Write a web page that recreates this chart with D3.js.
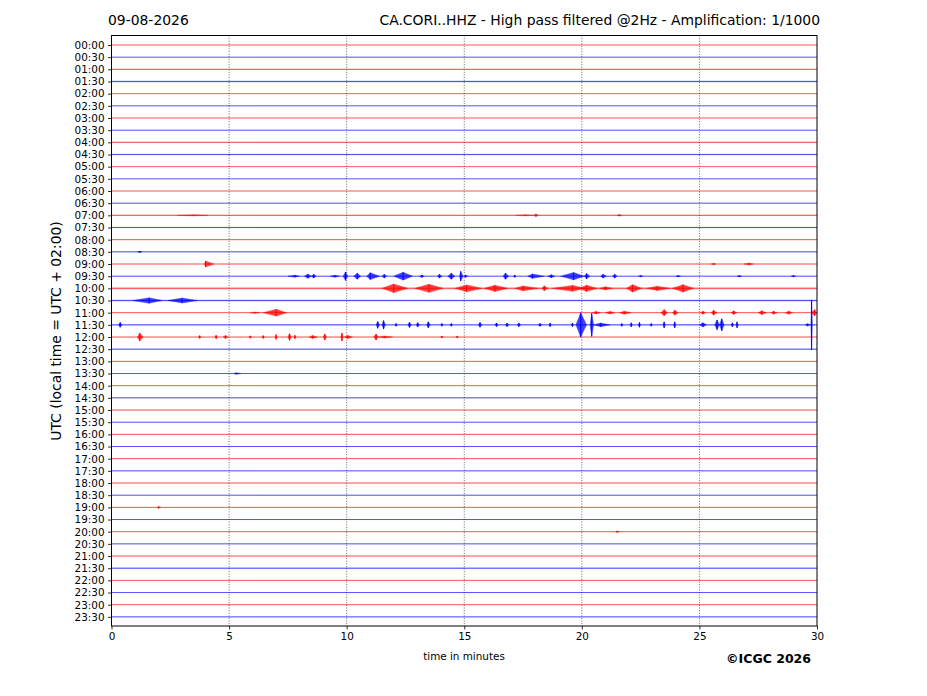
<!DOCTYPE html>
<html>
<head>
<meta charset="utf-8">
<script src="https://cdn.jsdelivr.net/npm/d3@7"></script>
<style>
  body { margin: 0; background: #fff; }
  svg { font-family: "DejaVu Sans", sans-serif; }
</style>
</head>
<body>
<svg id="chart" width="927" height="696"></svg>
<script>
// one trace every 30 minutes, 48 lines for the day
var rowLabels = d3.range(48).map(function (i) {
    return d3.format("02d")(Math.floor(i / 2)) + ":" + (i % 2 ? "30" : "00");
});
var rowColors = ["#ff0000", "#0000ff"];
var xTicks = [0, 5, 10, 15, 20, 25, 30];

// background noise half-width for each trace (in trace spacings)
var noiseLevel = [
    0.02, 0.02, 0.05, 0.08, 0.02, 0.02, 0.02, 0.02, 0.06, 0.06, 0.02, 0.02,
    0.02, 0.03, 0.06, 0.06, 0.04, 0.04, 0.03, 0.03, 0.1, 0.08, 0.03, 0.06,
    0.03, 0.05, 0.03, 0.03, 0.03, 0.04, 0.03, 0.03, 0.04, 0.03, 0.03, 0.03,
    0.03, 0.03, 0.03, 0.04, 0.03, 0.03, 0.03, 0.06, 0.03, 0.03, 0.03, 0.04
];

// events: [row, start min, peak min, end min, peak amplitude]
var events = [
    [14, 2.8, 3.5, 4.1, 0.04], [14, 17.2, 17.6, 17.9, 0.04], [14, 17.95, 18.05, 18.15, 0.1], [14, 21.5, 21.6, 21.7, 0.06],
    [17, 1.1, 1.2, 1.3, 0.05],
    [18, 3.95, 4.0, 4.35, 0.25], [18, 25.5, 25.6, 25.7, 0.06], [18, 26.9, 27.1, 27.3, 0.08],
    [19, 7.5, 7.8, 8.0, 0.08], [19, 8.2, 8.35, 8.5, 0.17], [19, 8.5, 8.6, 8.7, 0.15], [19, 9.3, 9.5, 9.7, 0.08],
    [19, 9.85, 9.95, 10.05, 0.35], [19, 10.3, 10.45, 10.6, 0.25], [19, 10.85, 11.0, 11.4, 0.28], [19, 11.5, 11.6, 11.7, 0.15],
    [19, 12.0, 12.4, 12.8, 0.32], [19, 13.1, 13.2, 13.3, 0.1], [19, 13.85, 13.95, 14.05, 0.15], [19, 14.3, 14.45, 14.6, 0.25],
    [19, 14.8, 14.85, 14.95, 0.4], [19, 15.0, 15.05, 15.15, 0.1], [19, 16.65, 16.75, 16.9, 0.25], [19, 17.1, 17.15, 17.2, 0.1],
    [19, 17.7, 17.9, 18.4, 0.18], [19, 18.55, 18.7, 18.85, 0.12], [19, 19.1, 19.65, 20.1, 0.3], [19, 20.1, 20.2, 20.35, 0.22],
    [19, 20.8, 20.9, 21.05, 0.15], [19, 21.3, 21.4, 21.5, 0.15], [19, 22.4, 22.5, 22.6, 0.06], [19, 24.0, 24.1, 24.2, 0.06],
    [19, 26.6, 26.7, 26.8, 0.06], [19, 28.9, 29.0, 29.1, 0.06],
    [20, 11.5, 12.0, 12.6, 0.35], [20, 12.9, 13.5, 14.1, 0.33], [20, 14.6, 15.1, 15.75, 0.28], [20, 15.85, 16.3, 16.85, 0.25],
    [20, 17.15, 17.5, 18.15, 0.2], [20, 18.3, 18.4, 18.55, 0.2], [20, 18.75, 19.6, 20.15, 0.24], [20, 19.9, 20.2, 20.65, 0.25],
    [20, 20.75, 21.0, 21.3, 0.13], [20, 21.9, 22.15, 22.55, 0.3], [20, 22.75, 23.2, 23.75, 0.17], [20, 23.85, 24.3, 24.75, 0.3],
    [21, 0.9, 1.6, 2.15, 0.22], [21, 2.4, 3.0, 3.65, 0.2],
    [22, 5.9, 6.1, 6.3, 0.05], [22, 6.45, 7.0, 7.45, 0.28], [22, 20.45, 20.6, 20.8, 0.1], [22, 21.0, 21.2, 21.4, 0.1],
    [22, 21.6, 21.8, 22.1, 0.12], [22, 23.35, 23.5, 23.65, 0.25], [22, 23.85, 23.95, 24.1, 0.2], [22, 25.05, 25.15, 25.25, 0.12],
    [22, 25.5, 25.6, 25.75, 0.2], [22, 26.35, 26.45, 26.6, 0.15], [22, 27.5, 27.65, 27.85, 0.15], [22, 28.05, 28.15, 28.3, 0.12],
    [22, 28.65, 28.8, 28.95, 0.12], [22, 29.75, 29.9, 30.0, 0.25],
    [23, 0.3, 0.37, 0.45, 0.2], [23, 11.25, 11.32, 11.4, 0.28], [23, 11.5, 11.57, 11.65, 0.35], [23, 12.05, 12.1, 12.15, 0.12],
    [23, 12.6, 12.67, 12.75, 0.22], [23, 12.95, 13.02, 13.1, 0.18], [23, 13.4, 13.47, 13.55, 0.25], [23, 14.0, 14.05, 14.1, 0.12],
    [23, 14.4, 14.45, 14.5, 0.12], [23, 15.6, 15.67, 15.75, 0.2], [23, 16.3, 16.37, 16.45, 0.15], [23, 16.75, 16.82, 16.9, 0.15],
    [23, 17.25, 17.32, 17.4, 0.15], [23, 18.15, 18.22, 18.3, 0.12], [23, 18.6, 18.65, 18.7, 0.15], [23, 19.55, 19.6, 19.65, 0.15],
    [23, 19.75, 19.95, 20.2, 1.0], [23, 20.35, 20.42, 20.5, 0.95], [23, 20.5, 20.8, 21.2, 0.15], [23, 21.65, 21.7, 21.75, 0.12],
    [23, 22.05, 22.1, 22.15, 0.17], [23, 22.4, 22.45, 22.5, 0.2], [23, 22.9, 22.95, 23.0, 0.12], [23, 23.45, 23.5, 23.55, 0.25],
    [23, 23.9, 23.95, 24.0, 0.25], [23, 25.0, 25.15, 25.3, 0.17], [23, 25.65, 25.75, 25.85, 0.4], [23, 25.85, 25.95, 26.05, 0.5],
    [23, 26.35, 26.4, 26.45, 0.17], [23, 26.55, 26.6, 26.65, 0.25], [23, 29.5, 29.6, 29.72, 0.1], [23, 29.74, 29.77, 29.8, 2.05],
    [24, 1.1, 1.2, 1.35, 0.33], [24, 3.7, 3.75, 3.8, 0.12], [24, 4.4, 4.45, 4.5, 0.15], [24, 4.75, 4.85, 4.95, 0.12],
    [24, 5.85, 5.9, 5.95, 0.1], [24, 6.4, 6.45, 6.5, 0.12], [24, 6.95, 7.0, 7.05, 0.2], [24, 7.5, 7.57, 7.65, 0.28],
    [24, 7.75, 7.8, 7.85, 0.15], [24, 8.4, 8.55, 8.75, 0.12], [24, 9.0, 9.07, 9.15, 0.25], [24, 9.75, 9.8, 9.85, 0.33],
    [24, 9.9, 10.05, 10.25, 0.12], [24, 11.15, 11.25, 11.35, 0.25], [24, 11.35, 11.6, 11.95, 0.08], [24, 14.0, 14.05, 14.1, 0.08],
    [24, 14.65, 14.7, 14.75, 0.08],
    [27, 5.2, 5.3, 5.5, 0.06],
    [38, 1.95, 2.0, 2.1, 0.08],
    [40, 21.45, 21.5, 21.6, 0.06]
];

var svg = d3.select("#chart");
var plotLeft = 111.5, plotRight = 817, plotTop = 35.5, plotBottom = 626;

var x = d3.scaleLinear().domain([0, 30]).range([plotLeft, plotRight]);
var y = d3.scaleLinear().domain([-0.78, 47.75]).range([plotTop, plotBottom]);

svg.append("defs").append("clipPath").attr("id", "plotclip")
    .append("rect").attr("x", plotLeft).attr("y", plotTop)
    .attr("width", plotRight - plotLeft).attr("height", plotBottom - plotTop);

var plot = svg.append("g").attr("clip-path", "url(#plotclip)");

// vertical dotted grid
plot.selectAll(".vgrid").data(xTicks.slice(1, -1)).enter().append("line")
    .attr("x1", function (d) { return x(d); }).attr("x2", function (d) { return x(d); })
    .attr("y1", plotTop).attr("y2", plotBottom)
    .attr("stroke", "#444").attr("stroke-width", 0.8).attr("stroke-dasharray", "1,1.6");

var rows = plot.selectAll(".row").data(rowLabels).enter().append("g").attr("class", "row");

// noise band
rows.append("rect")
    .attr("x", x(0)).attr("width", x(30) - x(0))
    .attr("y", function (d, i) { return y(i - noiseLevel[i]); })
    .attr("height", function (d, i) { return y(i + noiseLevel[i]) - y(i - noiseLevel[i]); })
    .attr("fill", function (d, i) { return rowColors[i % 2]; })
    .attr("opacity", 0.22);

// baseline
rows.append("line")
    .attr("x1", x(0)).attr("x2", x(30))
    .attr("y1", function (d, i) { return y(i); }).attr("y2", function (d, i) { return y(i); })
    .attr("stroke", function (d, i) { return rowColors[i % 2]; })
    .attr("stroke-width", 1).attr("opacity", 0.6);

var env = d3.area()
    .x(function (p) { return x(p[0]); })
    .y0(function (p) { return y(p[2] + p[1]); })
    .y1(function (p) { return y(p[2] - p[1]); });

var ev = plot.selectAll(".event").data(events).enter().append("g").attr("class", "event");

ev.append("path")
    .attr("d", function (e) {
        return env([[e[1], 0, e[0]], [e[2], e[4], e[0]], [e[3], 0, e[0]]]);
    })
    .attr("fill", function (e) { return rowColors[e[0] % 2]; })
    .attr("stroke", function (e) { return rowColors[e[0] % 2]; })
    .attr("stroke-width", 0.5)
    .attr("opacity", 0.75);

// spike at the peak of each event
ev.append("line")
    .attr("x1", function (e) { return x(e[2]); }).attr("x2", function (e) { return x(e[2]); })
    .attr("y1", function (e) { return y(e[0] - e[4]); })
    .attr("y2", function (e) { return y(e[0] + e[4]); })
    .attr("stroke", function (e) { return rowColors[e[0] % 2]; })
    .attr("stroke-width", 1);

// axes
var yAxis = d3.axisLeft(y).tickValues(d3.range(48))
    .tickFormat(function (i) { return rowLabels[i]; }).tickSize(3.5).tickPadding(3.5);
var xAxis = d3.axisBottom(x).tickValues(xTicks).tickSize(3.5).tickPadding(3.5);

var gy = svg.append("g").attr("transform", "translate(" + plotLeft + ",0)").call(yAxis);
var gx = svg.append("g").attr("transform", "translate(0," + plotBottom + ")").call(xAxis);
[gy, gx].forEach(function (g) {
    g.select(".domain").remove();
    g.selectAll("text").attr("font-size", "10.4px").attr("fill", "#000")
        .attr("font-family", "DejaVu Sans");
    g.selectAll("line").attr("stroke", "#000").attr("stroke-width", 0.8);
});

svg.append("rect").attr("x", plotLeft).attr("y", plotTop)
    .attr("width", plotRight - plotLeft).attr("height", plotBottom - plotTop)
    .attr("fill", "none").attr("stroke", "#000").attr("stroke-width", 1);

// titles
svg.append("text").attr("x", 108).attr("y", 25).attr("font-size", "13.9px")
    .text("09-08-2026");
svg.append("text").attr("x", 820).attr("y", 25).attr("font-size", "13.9px")
    .attr("text-anchor", "end")
    .text("CA.CORI..HHZ - High pass filtered @2Hz - Amplification: 1/1000");
svg.append("text").attr("transform", "translate(61,331) rotate(-90)")
    .attr("text-anchor", "middle").attr("font-size", "13.9px")
    .text("UTC (local time = UTC + 02:00)");
svg.append("text").attr("x", 464).attr("y", 660).attr("text-anchor", "middle")
    .attr("font-size", "10.4px").text("time in minutes");
svg.append("text").attr("x", 811).attr("y", 663).attr("text-anchor", "end")
    .attr("font-size", "12.5px").attr("font-weight", "bold").text("\u00a9ICGC 2026");
</script>
</body>
</html>
